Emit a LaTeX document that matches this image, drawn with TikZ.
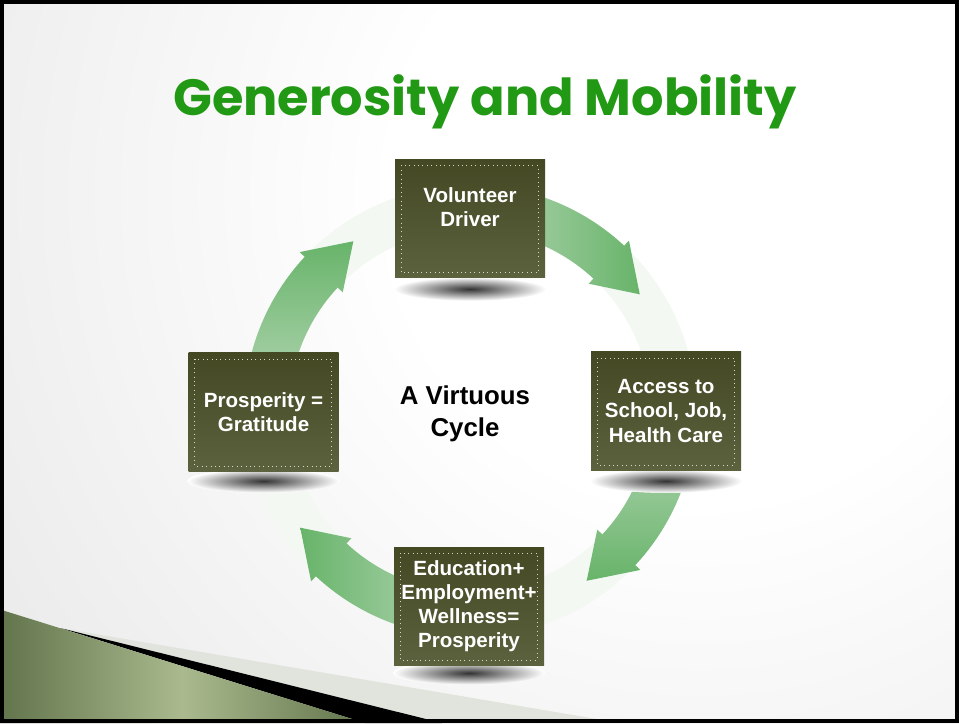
\documentclass[tikz,border=0pt]{standalone}
\usepackage{fontspec}
\setmainfont{Liberation Sans}
\newfontfamily\titlefont{Poppins}
\usepackage{tikz}
\usetikzlibrary{positioning,shapes.geometric}

\definecolor{titlegreen}{RGB}{34,153,20}
\definecolor{cardtop}{RGB}{68,73,36}
\definecolor{cardbottom}{RGB}{92,97,62}
\definecolor{cardline}{RGB}{215,215,200}
\definecolor{arrowlight}{RGB}{185,216,185}
\definecolor{arrowdark}{RGB}{104,180,106}
\definecolor{ringtint}{RGB}{243,248,243}
\definecolor{stripe}{RGB}{224,228,220}
\definecolor{olivedark}{RGB}{98,116,76}
\definecolor{olivelight}{RGB}{170,186,142}

% slide background: white towards the upper right, grey towards the edges
\pgfdeclareradialshading{slidebg}{\pgfpoint{0bp}{0bp}}{%
  color(0bp)=(white); color(7bp)=(white); color(34bp)=(black!18);
  color(50bp)=(black!18)}

\tikzset{
  card/.style={rectangle, minimum width=3.0cm, minimum height=2.36cm,
    top color=cardtop, bottom color=cardbottom, text=white, align=center,
    font=\fontsize{11.7}{13.7}\selectfont\bfseries, inner sep=0pt,
    path picture={\draw[dotted, cardline, line width=0.5pt]
      ([shift={(0.12,-0.12)}]path picture bounding box.north west) rectangle
      ([shift={(-0.14,0.1)}]path picture bounding box.south east);}},
  floor/.style={shading=radial, inner color=black!80, outer color=white}
}

\begin{document}
\begin{tikzpicture}
  \useasboundingbox (0,0) rectangle (19.18,14.46);
  % background
  \begin{scope}
    \clip (0,0) rectangle (19.18,14.46);
    \shade[shading=slidebg] (14.0,10.6) circle (22);
    % corner band: light stripe, black edge, green wedge
    \fill[stripe] (1.20,1.90) -- (12.4,0) -- (8.84,0) -- cycle;
    \fill[black] (1.20,1.90) -- (8.84,0) -- (7.30,0) -- cycle;
    \shade[left color=olivedark, right color=olivedark, middle color=olivelight]
      (0,2.27) -- (7.30,0) -- (0,0) -- cycle;
  \end{scope}

  % title
  \node[font=\titlefont\bfseries\fontsize{29}{34}\selectfont, text=titlegreen]
    (title) at (9.70,12.42) {Generosity and Mobility};

  % the cycle
  \coordinate (C) at (9.40,6.24);
  \fill[ringtint, even odd rule] (C) circle (4.52) (C) circle (3.62);
  \begin{scope}[shift={(C)}]
    \foreach \s in {90,0,-90,-180} {
      \pgfmathsetmacro\b{\s-43}
      \pgfmathsetmacro\t{\s-55.5}
      \pgfmathsetmacro\sa{\s-180}
      \shade[top color=arrowdark, bottom color=arrowlight, shading angle=\sa]
        (\s:4.52) arc[start angle=\s, end angle=\b, radius=4.52]
        -- (\b:4.66) -- (\t:4.12) -- (\b:3.48) -- (\b:3.62)
        arc[start angle=\b, end angle=\s, radius=3.62] -- cycle;
    }
  \end{scope}

  % shadows under the cards
  \foreach \p in {(9.40,8.68),(13.32,4.84),(9.38,1.00),(5.27,4.84)} {
    \fill[white] \p ellipse (1.52 and 0.235);
    \shade[floor] \p ellipse (1.52 and 0.235);
  }

  % cards
  \node[card, text depth=0.44cm] (driver) at (9.40,10.09) {Volunteer\\Driver};
  \node[card] (access) at (13.32,6.24) {Access to\\School, Job,\\Health Care};
  \node[card] (prosperity) at (9.38,2.34) {Education+\\Employment+\\Wellness=\\Prosperity};
  \node[card] (gratitude) at (5.27,6.22) {Prosperity =\\Gratitude};

  \node[font=\fontsize{14.7}{18}\selectfont\bfseries, align=center]
    (cycle) at (9.30,6.18) {A Virtuous\\Cycle};

  % frame
  \draw[line width=0.08cm] (0.04,0.04) rectangle (19.14,14.42);
\end{tikzpicture}
\end{document}
